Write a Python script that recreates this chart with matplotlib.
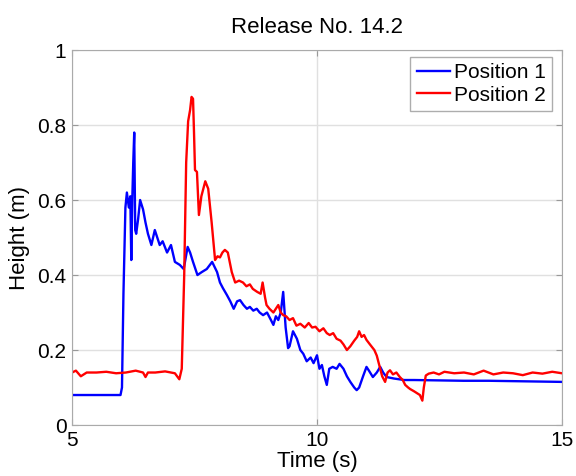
import matplotlib
matplotlib.use("Agg")
import matplotlib.pyplot as plt

plt.rcParams['font.family'] = ['Liberation Sans', 'DejaVu Sans']

# Position 1 (blue)
t1 = [5.0, 5.99, 6.02, 6.05, 6.09, 6.12, 6.16, 6.19, 6.21, 6.23, 6.25, 6.27, 6.29,
      6.31, 6.35, 6.39, 6.45, 6.50, 6.55, 6.62, 6.69, 6.74, 6.79, 6.85, 6.94, 7.02,
      7.10, 7.20, 7.28, 7.36, 7.41, 7.47, 7.56, 7.65, 7.75, 7.86, 7.96, 8.02, 8.08,
      8.16, 8.23, 8.30, 8.37, 8.43, 8.50, 8.57, 8.63, 8.70, 8.77, 8.83, 8.90, 8.98,
      9.06, 9.11, 9.16, 9.21, 9.26, 9.31, 9.36, 9.41, 9.44, 9.51, 9.59, 9.66, 9.72,
      9.79, 9.87, 9.93, 10.00, 10.05, 10.10, 10.15, 10.20, 10.25, 10.32, 10.40, 10.46,
      10.54, 10.61, 10.68, 10.76, 10.81, 10.86, 10.94, 11.01, 11.06, 11.14, 11.22,
      11.29, 11.35, 11.42, 11.57, 11.78, 11.98, 12.49, 12.99, 13.5, 14.0, 14.5, 15.0]
h1 = [0.08, 0.08, 0.10, 0.35, 0.58, 0.62, 0.58, 0.61, 0.44, 0.60, 0.70, 0.78, 0.52,
      0.51, 0.55, 0.60, 0.575, 0.54, 0.51, 0.48, 0.52, 0.50, 0.48, 0.49, 0.46, 0.48,
      0.435, 0.427, 0.416, 0.475, 0.46, 0.435, 0.40, 0.408, 0.416, 0.435, 0.408, 0.38, 0.365,
      0.347, 0.33, 0.31, 0.33, 0.333, 0.32, 0.31, 0.315, 0.305, 0.31, 0.30, 0.293, 0.30,
      0.28, 0.267, 0.29, 0.28, 0.30, 0.355, 0.26, 0.205, 0.21, 0.25, 0.23, 0.20, 0.19,
      0.17, 0.18, 0.165, 0.186, 0.15, 0.16, 0.13, 0.107, 0.15, 0.155, 0.15, 0.163,
      0.15, 0.13, 0.115, 0.10, 0.093, 0.10, 0.13, 0.155, 0.145, 0.128, 0.14,
      0.155, 0.14, 0.128, 0.124, 0.12, 0.12, 0.119, 0.118, 0.118, 0.117, 0.116, 0.115]

# Position 2 (red)
t2 = [5.0, 5.08, 5.18, 5.3, 5.5, 5.7, 5.9, 6.1, 6.3, 6.45, 6.5, 6.55, 6.7, 6.9, 7.1,
      7.19, 7.24, 7.29, 7.33, 7.37, 7.41, 7.44, 7.47, 7.49, 7.51, 7.55, 7.59, 7.64,
      7.72, 7.78, 7.85, 7.92, 7.97, 8.02, 8.07, 8.12, 8.18, 8.26, 8.33, 8.41, 8.49, 8.56,
      8.63, 8.69, 8.78, 8.85, 8.89, 8.94, 8.97, 9.03, 9.11, 9.16, 9.21, 9.26, 9.31, 9.37,
      9.44, 9.51, 9.58, 9.66, 9.75, 9.83, 9.90, 9.97, 10.05, 10.13, 10.20, 10.26, 10.33,
      10.40, 10.48, 10.54, 10.61, 10.68, 10.76, 10.82, 10.86, 10.91, 10.96, 11.01, 11.08,
      11.17, 11.22, 11.27, 11.33, 11.39, 11.44, 11.49, 11.55, 11.62, 11.69, 11.75, 11.80,
      11.86, 11.90, 11.98, 12.04, 12.10, 12.15, 12.18, 12.22, 12.28, 12.38, 12.49, 12.6,
      12.8, 13.0, 13.2, 13.4, 13.6, 13.8, 14.0, 14.2, 14.4, 14.6, 14.8, 15.0]
h2 = [0.14, 0.145, 0.13, 0.14, 0.14, 0.142, 0.138, 0.14, 0.145, 0.14, 0.128, 0.14, 0.14, 0.143, 0.138,
      0.122, 0.15, 0.40, 0.70, 0.81, 0.84, 0.875, 0.87, 0.78, 0.68, 0.675, 0.56, 0.61,
      0.65, 0.63, 0.54, 0.44, 0.45, 0.447, 0.46, 0.467, 0.46, 0.408, 0.38, 0.385, 0.38, 0.37,
      0.375, 0.363, 0.355, 0.35, 0.38, 0.34, 0.32, 0.31, 0.30, 0.31, 0.32, 0.30, 0.293, 0.29,
      0.28, 0.285, 0.265, 0.27, 0.26, 0.272, 0.26, 0.262, 0.25, 0.258, 0.245, 0.24, 0.245,
      0.23, 0.225, 0.215, 0.20, 0.21, 0.225, 0.235, 0.25, 0.235, 0.24, 0.227, 0.215,
      0.20, 0.185, 0.16, 0.13, 0.115, 0.14, 0.146, 0.135, 0.14, 0.128, 0.12, 0.107,
      0.10, 0.096, 0.09, 0.085, 0.08, 0.065, 0.10, 0.132, 0.137, 0.14, 0.135, 0.142,
      0.138, 0.14, 0.135, 0.145, 0.135, 0.14, 0.138, 0.133, 0.14, 0.137, 0.142, 0.138]

xticks = [5, 10, 15]
yticks = [0, 0.2, 0.4, 0.6, 0.8, 1]
ytick_labels = ['0', '0.2', '0.4', '0.6', '0.8', '1']

fig = plt.figure(figsize=(5.76, 4.76), dpi=100)
ax = fig.add_axes([0.125, 0.1071, 0.8507, 0.7878])

ax.plot(t1, h1, color='#0000ff', lw=1.7, label='Position 1')
ax.plot(t2, h2, color='#ff0000', lw=1.7, label='Position 2')

ax.set_xlim(5, 15)
ax.set_ylim(0, 1)
ax.set_xticks(xticks)
ax.set_xticklabels([str(x) for x in xticks])
ax.set_yticks(yticks)
ax.set_yticklabels(ytick_labels)
ax.grid(True, color='#e0e0e0', lw=1)
ax.set_axisbelow(True)
ax.tick_params(direction='in', top=True, right=True, labelsize=15, length=4,
               color='#999999', pad=4)
for s in ax.spines.values():
    s.set_color('#aaaaaa')

ax.set_title('Release No. 14.2', fontsize=16, pad=12)
ax.set_xlabel('Time (s)', fontsize=16, labelpad=1)
ax.set_ylabel('Height (m)', fontsize=16, labelpad=5)

leg = ax.legend(loc='upper right', bbox_to_anchor=(0.98, 0.981), borderaxespad=0,
                fontsize=15, fancybox=False, handlelength=1.6, handletextpad=0.2,
                borderpad=0.3, labelspacing=0.15)
leg.get_frame().set_edgecolor('#999999')
leg.get_frame().set_linewidth(1)

fig.savefig('out.png', dpi=100)
